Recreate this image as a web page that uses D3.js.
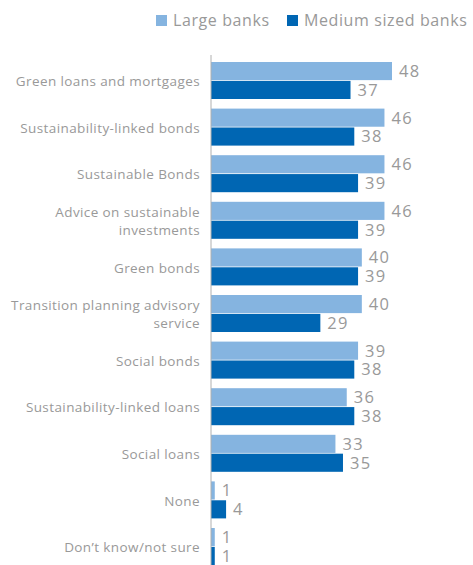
<!DOCTYPE html>
<html>
<head>
<meta charset="utf-8">
<script src="https://cdnjs.cloudflare.com/ajax/libs/d3/7.8.5/d3.min.js"></script>
<style>
  body { margin: 0; background: #fff; }
  text { font-family: "Open Sans", Lato, sans-serif; }
</style>
</head>
<body>
<div id="chart-area"></div>
<script>
var outerWidth = 473;
var outerHeight = 565;

var categories = [
  "Green loans and mortgages",
  "Sustainability-linked bonds",
  "Sustainable Bonds",
  "Advice on sustainable|investments",
  "Green bonds",
  "Transition planning advisory|service",
  "Social bonds",
  "Sustainability-linked loans",
  "Social loans",
  "None",
  "Don\u2019t know/not sure"
];
var seriesNames = ["Large banks", "Medium sized banks"];
var largeBanks = [48, 46, 46, 46, 40, 40, 39, 36, 33, 1, 1];
var mediumBanks = [37, 38, 39, 39, 39, 29, 38, 38, 35, 4, 1];
var colors = ["#85b4e0", "#0066b3"];

var axisX = 211;

var svg = d3.select('#chart-area').append('svg')
            .attr('width', outerWidth)
            .attr('height', outerHeight);

// Scales
var xScale = d3.scaleLinear().domain([0, 48]).range([axisX, 392]);
var yScale = d3.scaleBand()
               .domain(categories)
               .range([57.2, 569.8])
               .paddingInner(0.206)
               .paddingOuter(0.103);
var subScale = d3.scaleBand()
                 .domain(seriesNames)
                 .range([0, yScale.bandwidth()])
                 .paddingInner(0.04);

// Legend
var legend = svg.append('g').attr('class', 'legend');
var legendX = [156, 287];
seriesNames.forEach(function(name, i) {
  legend.append('rect')
        .attr('x', legendX[i])
        .attr('y', 15)
        .attr('width', 11)
        .attr('height', 11)
        .attr('fill', colors[i]);
  legend.append('text')
        .attr('x', legendX[i] + 17)
        .attr('y', 20.5)
        .attr('dy', '0.35em')
        .attr('font-size', '16px')
        .attr('letter-spacing', '0.6px')
        .attr('fill', '#999')
        .text(name);
});

// Bars
var groups = svg.selectAll('.group')
                .data(categories)
                .enter().append('g')
                .attr('class', 'group')
                .attr('transform', function(d) { return 'translate(0,' + yScale(d) + ')'; });

groups.each(function(cat, i) {
  var g = d3.select(this);
  var vals = [largeBanks[i], mediumBanks[i]];
  vals.forEach(function(v, j) {
    var y = subScale(seriesNames[j]);
    g.append('rect')
     .attr('x', xScale(0))
     .attr('y', y)
     .attr('width', xScale(v) - xScale(0))
     .attr('height', subScale.bandwidth())
     .attr('fill', colors[j]);
    g.append('text')
     .attr('x', xScale(v) + 7)
     .attr('y', y + subScale.bandwidth() / 2)
     .attr('dy', '0.36em')
     .attr('font-size', '16.5px')
     .attr('letter-spacing', '1.3px')
     .attr('fill', '#999')
     .text(v);
  });

  // category label
  var lines = cat.split('|');
  var label = g.append('text')
               .attr('text-anchor', 'end')
               .attr('font-size', '13.5px')
               .attr('letter-spacing', '0.4px')
               .attr('fill', '#999');
  lines.forEach(function(line, k) {
    label.append('tspan')
         .attr('x', 200)
         .attr('y', yScale.bandwidth() / 2 + 1 + (k - (lines.length - 1) / 2) * 18)
         .attr('dy', '0.35em')
         .text(line);
  });
});

// Axis line
svg.append('line')
   .attr('x1', axisX).attr('x2', axisX)
   .attr('y1', 55).attr('y2', outerHeight)
   .attr('stroke', '#b0b0b0')
   .attr('stroke-width', 1);
</script>
</body>
</html>
